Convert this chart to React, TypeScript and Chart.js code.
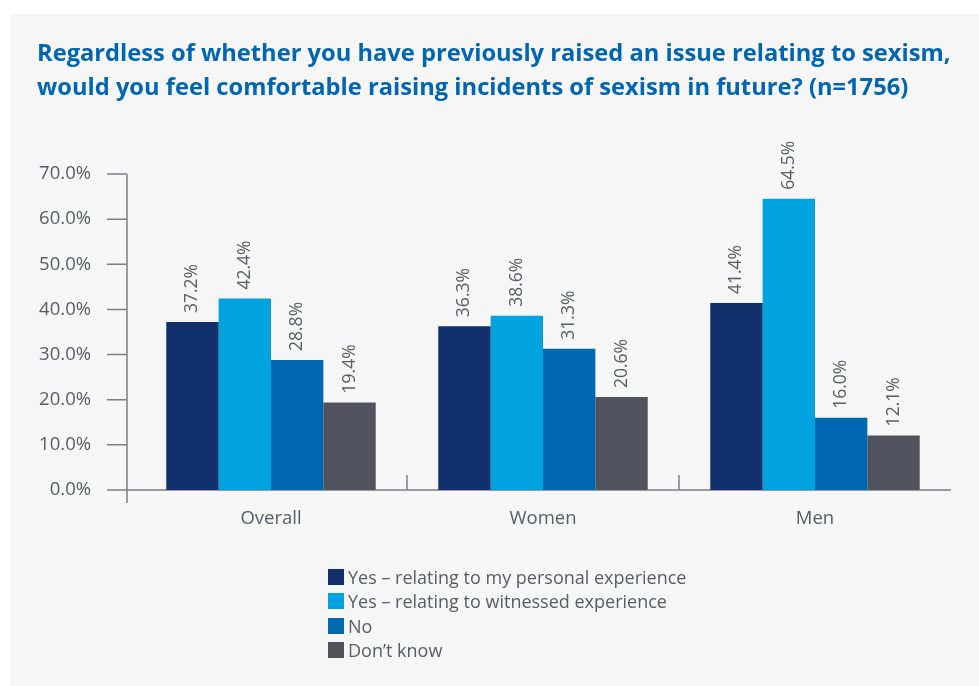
import React, { useEffect, useRef } from "react";
import { Chart, registerables } from "chart.js";

Chart.register(...registerables);

const TITLE_LINES = [
  "Regardless of whether you have previously raised an issue relating to sexism,",
  "would you feel comfortable raising incidents of sexism in future? (n=1756)",
];
const categories = ["Overall", "Women", "Men"];
const seriesNames = [
  "Yes \u2013 relating to my personal experience",
  "Yes \u2013 relating to witnessed experience",
  "No",
  "Don\u2019t know",
];
const personal = [37.2, 36.3, 41.4];
const witnessed = [42.4, 38.6, 64.5];
const no = [28.8, 31.3, 16.0];
const dontKnow = [19.4, 20.6, 12.1];
const seriesColors = ["#12306b", "#00a3e0", "#0068b2", "#50535b"];
const yTicks = [0, 10, 20, 30, 40, 50, 60, 70];

const TEXT_GREY = "#595c63";
const AXIS_GREY = "#7d7f86";
const FONT = "'Open Sans', Lato, sans-serif";

const axisPlugin = {
  id: "customAxes",
  beforeDatasetsDraw(chart: any) {
    const { ctx, chartArea, scales } = chart;
    const y = scales.y;
    const x = scales.x;
    const axisX = chartArea.left - 8;
    ctx.save();
    ctx.strokeStyle = AXIS_GREY;
    ctx.lineWidth = 1.5;
    ctx.beginPath();
    ctx.moveTo(axisX, y.getPixelForValue(yTicks[yTicks.length - 1]));
    ctx.lineTo(axisX, chartArea.bottom + 13);
    yTicks.forEach((t) => {
      const py = y.getPixelForValue(t);
      ctx.moveTo(axisX - 20, py);
      ctx.lineTo(axisX, py);
    });
    ctx.moveTo(axisX, chartArea.bottom);
    ctx.lineTo(chartArea.right, chartArea.bottom);
    const step = x.getPixelForValue(1) - x.getPixelForValue(0);
    for (let i = 0; i < categories.length - 1; i++) {
      const px = x.getPixelForValue(i) + step / 2;
      ctx.moveTo(px, chartArea.bottom);
      ctx.lineTo(px, chartArea.bottom - 15);
    }
    ctx.stroke();
    ctx.restore();
  },
};

const labelPlugin = {
  id: "barLabels",
  afterDatasetsDraw(chart: any) {
    const { ctx } = chart;
    ctx.save();
    ctx.fillStyle = TEXT_GREY;
    ctx.font = `17.5px ${FONT}`;
    ctx.textAlign = "left";
    ctx.textBaseline = "middle";
    chart.data.datasets.forEach((ds: any, di: number) => {
      const meta = chart.getDatasetMeta(di);
      meta.data.forEach((bar: any, i: number) => {
        const v = ds.data[i] as number;
        ctx.save();
        ctx.translate(bar.x, bar.y - 9);
        ctx.rotate(-Math.PI / 2);
        ctx.fillText(v.toFixed(1) + "%", 0, 0);
        ctx.restore();
      });
    });
    ctx.restore();
  },
};

export default function App() {
  const canvasRef = useRef<HTMLCanvasElement>(null);

  useEffect(() => {
    if (!canvasRef.current) return;
    const seriesData = [personal, witnessed, no, dontKnow];
    const chart = new Chart(canvasRef.current, {
      type: "bar",
      data: {
        labels: categories,
        datasets: seriesNames.map((name, i) => ({
          label: name,
          data: seriesData[i],
          backgroundColor: seriesColors[i],
          borderWidth: 0,
          categoryPercentage: 0.77,
          barPercentage: 1,
        })),
      },
      options: {
        responsive: false,
        animation: false,
        devicePixelRatio: 1,
        layout: { padding: { left: 25, right: 28, top: 160, bottom: 146 } },
        plugins: {
          legend: { display: false },
          title: { display: false },
          tooltip: { enabled: false },
        },
        scales: {
          x: {
            grid: { display: false, drawTicks: false },
            border: { display: false },
            ticks: {
              color: TEXT_GREY,
              font: { family: FONT, size: 18.5 },
              padding: 18,
            },
            afterFit: (s: any) => {
              s.height = 50;
            },
          },
          y: {
            min: 0,
            max: 70,
            grid: { display: false, drawTicks: false },
            border: { display: false },
            ticks: {
              stepSize: 10,
              color: TEXT_GREY,
              font: { family: FONT, size: 18.5 },
              padding: 44,
              callback: (v: any) => Number(v).toFixed(1) + "%",
            },
            afterFit: (s: any) => {
              s.width = 100;
            },
          },
        },
      },
      plugins: [axisPlugin, labelPlugin],
    });
    return () => chart.destroy();
  }, []);

  return (
    <div
      style={{
        position: "fixed",
        left: 0,
        top: 0,
        width: 979,
        height: 686,
        background: "#ffffff",
        overflow: "hidden",
      }}
    >
      <div
        style={{
          position: "absolute",
          left: 10,
          top: 14,
          width: 969,
          height: 672,
          background: "#f6f6f6",
        }}
      >
        <canvas
          ref={canvasRef}
          width={969}
          height={672}
          style={{ position: "absolute", left: 0, top: 0, width: 969, height: 672 }}
        />
        <div
          style={{
            position: "absolute",
            left: 27,
            top: 21,
            fontFamily: FONT,
            fontWeight: 700,
            fontSize: 23.7,
            lineHeight: "34px",
            color: "#0066b1",
            whiteSpace: "nowrap",
          }}
        >
          {TITLE_LINES.map((l) => (
            <div key={l}>{l}</div>
          ))}
        </div>
        <div
          style={{
            position: "absolute",
            left: 318,
            top: 551,
            fontFamily: FONT,
            fontSize: 18,
            color: TEXT_GREY,
          }}
        >
          {seriesNames.map((n, i) => (
            <div
              key={n}
              style={{ display: "flex", alignItems: "center", height: 24.3 }}
            >
              <span
                style={{
                  display: "inline-block",
                  width: 16,
                  height: 16,
                  background: seriesColors[i],
                  marginRight: 4,
                  flexShrink: 0,
                }}
              />
              <span>{n}</span>
            </div>
          ))}
        </div>
      </div>
    </div>
  );
}
